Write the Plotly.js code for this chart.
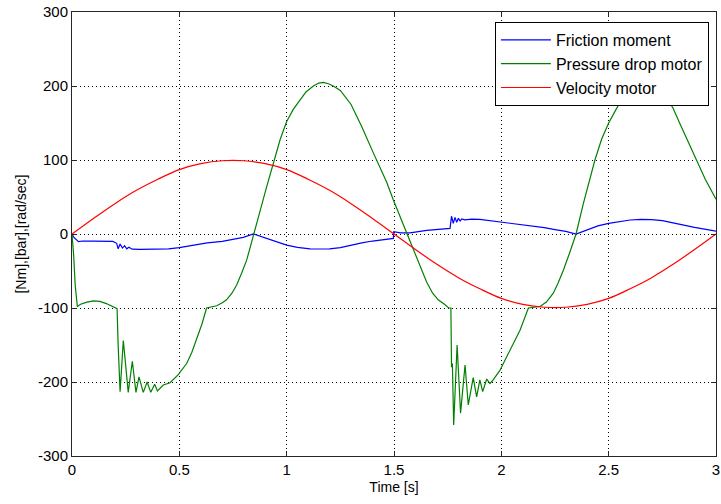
<!DOCTYPE html>
<html>
<head>
<meta charset="utf-8">
<script src="https://cdn.plot.ly/plotly-3.0.1.min.js"></script>
<style>html,body{margin:0;padding:0;background:#fff;}#chart{width:721px;height:504px;}</style>
</head>
<body>
<div id="chart"></div>
<script>
// Friction moment (blue)
const frictionT = [0, 0.01, 0.03, 0.05, 0.1, 0.15, 0.19, 0.208, 0.215, 0.224, 0.235, 0.245, 0.255, 0.265, 0.28, 0.317, 0.41, 0.45, 0.5, 0.57, 0.63, 0.7, 0.75, 0.798, 0.845, 0.907, 0.95, 1.0, 1.05, 1.109, 1.15, 1.2, 1.25, 1.3, 1.35, 1.4, 1.45, 1.497, 1.499, 1.53, 1.575, 1.652, 1.761, 1.768, 1.776, 1.784, 1.792, 1.8, 1.808, 1.816, 1.83, 1.862, 1.9, 1.95, 2.0, 2.05, 2.1, 2.165, 2.2, 2.25, 2.3, 2.348, 2.413, 2.45, 2.5, 2.55, 2.6, 2.65, 2.7, 2.75, 2.8, 2.85, 2.9, 2.95, 3.0];
const frictionV = [0, -5, -10.4, -9.5, -9.5, -9.8, -10, -12.6, -20, -13.5, -19, -15.8, -20, -18, -20.5, -20.7, -20.5, -20, -18.5, -15, -12, -10, -7.5, -4.5, 0, -6, -11, -15, -18, -20, -20.3, -20, -18.5, -15, -12, -9.5, -7.5, -5.9, 3.2, 1.5, 1.4, 5, 7.6, 24, 14.4, 22.5, 15.8, 21.2, 17.6, 20.3, 19, 20, 19.8, 18, 16.6, 14, 12, 10, 8.5, 6, 3.5, 0, 7.6, 11, 14.4, 17, 18.9, 19.8, 19.5, 18, 15.5, 12, 9, 6.8, 4];

// Pressure drop motor (green)
const pressureT = [0, 0.008, 0.015, 0.025, 0.04, 0.07, 0.1, 0.13, 0.16, 0.19, 0.205, 0.21, 0.215, 0.224, 0.239, 0.262, 0.281, 0.298, 0.312, 0.332, 0.35, 0.367, 0.385, 0.398, 0.425, 0.457, 0.495, 0.534, 0.558, 0.58, 0.605, 0.627, 0.65, 0.674, 0.7, 0.72, 0.745, 0.767, 0.79, 0.814, 0.83, 0.845, 0.875, 0.907, 0.941, 0.97, 1.0, 1.03, 1.062, 1.09, 1.124, 1.15, 1.171, 1.195, 1.217, 1.25, 1.3, 1.35, 1.4, 1.43, 1.466, 1.497, 1.53, 1.56, 1.59, 1.62, 1.652, 1.68, 1.706, 1.735, 1.755, 1.765, 1.768, 1.772, 1.778, 1.794, 1.81, 1.831, 1.846, 1.869, 1.885, 1.9, 1.913, 1.932, 1.947, 1.962, 1.994, 2.025, 2.056, 2.087, 2.126, 2.165, 2.18, 2.21, 2.242, 2.265, 2.289, 2.32, 2.348, 2.382, 2.41, 2.436, 2.467, 2.5, 2.53, 2.553, 2.6, 2.635, 2.67, 2.72, 2.77, 2.8, 2.832, 2.87, 2.91, 2.95, 3.0];
const pressureV = [0, -30, -70, -98, -95, -92, -90.5, -91, -94, -98, -100, -101, -150, -213, -144, -214, -172, -214, -193, -214, -200, -214, -203, -212, -204, -201, -190, -175, -160, -143, -122, -100, -99, -97, -93, -89, -80, -69, -53, -35, -18, -1, 30, 64, 100, 128, 152, 168, 181, 192, 200, 204, 205, 203, 200, 194, 175, 145, 112, 93, 70, 46, 22, 0, -21, -42, -65, -80, -89, -95, -100, -100, -180, -175, -258, -150, -242, -177, -231, -194, -220, -197, -213, -196, -202, -197, -184, -166, -148, -130, -100, -99, -98, -92, -80, -66, -49, -24, 0, 41, 72, 100, 128, 150, 166, 178, 195, 202, 205, 199, 185, 170, 149, 125, 100, 74, 47];

// Velocity motor (red)
const velocityT = [0, 0.1, 0.2, 0.3, 0.4, 0.5, 0.6, 0.7, 0.8, 0.9, 1.0, 1.1, 1.2, 1.3, 1.4, 1.5, 1.6, 1.7, 1.8, 1.9, 2.0, 2.1, 2.2, 2.3, 2.4, 2.5, 2.6, 2.7, 2.8, 2.9, 3.0];
const velocityV = [0, 21, 41, 59, 74, 87, 95, 99, 99, 95, 87, 74, 59, 41, 21, 0, -21, -41, -59, -74, -87, -95, -99, -99, -95, -87, -74, -59, -41, -21, 0];

const seriesNames = ['Friction moment', 'Pressure drop motor', 'Velocity motor'];
const xTickVals = [0, 0.5, 1, 1.5, 2, 2.5, 3];
const xTickText = ['0', '0.5', '1', '1.5', '2', '2.5', '3'];
const yTickVals = [-300, -200, -100, 0, 100, 200, 300];
const yTickText = ['-300', '-200', '-100', '0', '100', '200', '300'];
const xTitle = 'Time [s]';
const yTitle = '[Nm],[bar],[rad/sec]';

const FONT = 'Liberation Sans, Arial, Helvetica, sans-serif';

const traces = [
  {x: frictionT, y: frictionV, name: seriesNames[0], mode: 'lines', line: {color: '#0000ff', width: 1.2}},
  {x: pressureT, y: pressureV, name: seriesNames[1], mode: 'lines', line: {color: '#008000', width: 1.2}},
  {x: velocityT, y: velocityV, name: seriesNames[2], mode: 'lines', line: {color: '#ff0000', width: 1.2, shape: 'spline', smoothing: 1}}
];

const axisCommon = {
  showline: true, linecolor: '#262626', linewidth: 1, mirror: 'ticks',
  ticks: 'inside', ticklen: 5, tickcolor: '#262626', tickwidth: 1,
  showgrid: true, gridcolor: '#000000', gridwidth: 1, griddash: '1px,3px',
  zeroline: false, tickfont: {family: FONT, size: 15, color: '#000'},
  tickmode: 'array'
};

const layout = {
  width: 721, height: 504,
  margin: {l: 72, r: 5, t: 12, b: 48},
  paper_bgcolor: '#fff', plot_bgcolor: '#fff',
  font: {family: FONT, size: 14, color: '#000'},
  xaxis: Object.assign({}, axisCommon, {
    range: [0, 3], tickvals: xTickVals, ticktext: xTickText,
    title: {text: xTitle, font: {family: FONT, size: 14, color: '#000'}, standoff: 5}
  }),
  yaxis: Object.assign({}, axisCommon, {
    range: [-300, 300], tickvals: yTickVals, ticktext: yTickText,
    title: {text: yTitle, font: {family: FONT, size: 14, color: '#000'}, standoff: 8}
  }),
  showlegend: true,
  legend: {
    x: 0.989, xanchor: 'right', y: 0.9775, yanchor: 'top',
    bgcolor: '#fff', bordercolor: '#000', borderwidth: 1,
    font: {family: FONT, size: 16, color: '#000'},
    itemwidth: 50, tracegroupgap: 0
  }
};

Plotly.newPlot('chart', traces, layout, {displayModeBar: false, staticPlot: true});
</script>
</body>
</html>
